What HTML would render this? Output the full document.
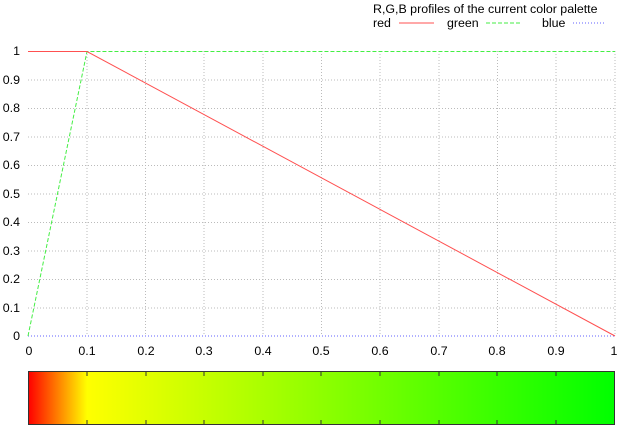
<!DOCTYPE html>
<html><head><style>body{margin:0;background:#fff}svg{display:block}</style></head><body>
<svg width="619" height="427" xmlns="http://www.w3.org/2000/svg" font-family="Liberation Sans, sans-serif" font-size="12.4">
<defs>
<linearGradient id="g" x1="0" x2="1" y1="0" y2="0">
<stop offset="0" stop-color="#ff0000"/>
<stop offset="0.1" stop-color="#ffff00"/>
<stop offset="1" stop-color="#00ff00"/>
</linearGradient>
</defs>
<g stroke="#bbb" stroke-width="1" stroke-dasharray="1,2">
<line x1="28" y1="80" x2="615" y2="80"/>
<line x1="28" y1="108.5" x2="615" y2="108.5"/>
<line x1="28" y1="137" x2="615" y2="137"/>
<line x1="28" y1="165.5" x2="615" y2="165.5"/>
<line x1="28" y1="194" x2="615" y2="194"/>
<line x1="28" y1="222.5" x2="615" y2="222.5"/>
<line x1="28" y1="251" x2="615" y2="251"/>
<line x1="28" y1="279.5" x2="615" y2="279.5"/>
<line x1="28" y1="308" x2="615" y2="308"/>
<line x1="87" y1="51" x2="87" y2="336"/>
<line x1="145.5" y1="51" x2="145.5" y2="336"/>
<line x1="204" y1="51" x2="204" y2="336"/>
<line x1="263" y1="51" x2="263" y2="336"/>
<line x1="321.5" y1="51" x2="321.5" y2="336"/>
<line x1="380" y1="51" x2="380" y2="336"/>
<line x1="439" y1="51" x2="439" y2="336"/>
<line x1="497.5" y1="51" x2="497.5" y2="336"/>
<line x1="556" y1="51" x2="556" y2="336"/>
<line x1="615" y1="51" x2="615" y2="336"/>
</g>
<g text-anchor="end">
<text x="20" y="55">1</text><text x="20" y="84">0.9</text><text x="20" y="112">0.8</text><text x="20" y="141">0.7</text><text x="20" y="169">0.6</text><text x="20" y="198">0.5</text><text x="20" y="226">0.4</text><text x="20" y="255">0.3</text><text x="20" y="283">0.2</text><text x="20" y="312">0.1</text><text x="20" y="340">0</text>
</g>
<g text-anchor="middle">
<text x="29" y="355">0</text><text x="87" y="355">0.1</text><text x="146" y="355">0.2</text><text x="204" y="355">0.3</text><text x="263" y="355">0.4</text><text x="321" y="355">0.5</text><text x="380" y="355">0.6</text><text x="439" y="355">0.7</text><text x="497" y="355">0.8</text><text x="556" y="355">0.9</text><text x="614" y="355">1</text>
</g>
<line x1="28" y1="336" x2="615" y2="336" stroke="#6060ff" stroke-dasharray="1,2"/>
<polyline points="28,336 87,51.5 615,51.5" fill="none" stroke="#44ee44" stroke-dasharray="4,2"/>
<polyline points="28,51.5 87,51.5 615,336" fill="none" stroke="#ff5050"/>
<text x="373" y="13">R,G,B profiles of the current color palette</text>
<text x="373" y="27">red</text><line x1="399" y1="23" x2="434" y2="23" stroke="#ff5050"/>
<text x="447" y="27">green</text><line x1="486" y1="23" x2="522" y2="23" stroke="#44ee44" stroke-dasharray="4,2"/>
<text x="542" y="27">blue</text><line x1="573" y1="23" x2="606" y2="23" stroke="#6060ff" stroke-dasharray="1,2"/>
<rect x="28.5" y="371.5" width="586" height="53" fill="url(#g)" stroke="#333"/>
<g stroke="#333">
<path d="M87 372v4M146 372v4M204 372v4M263 372v4M321 372v4M380 372v4M439 372v4M497 372v4M556 372v4M87 424v-4M146 424v-4M204 424v-4M263 424v-4M321 424v-4M380 424v-4M439 424v-4M497 424v-4M556 424v-4"/>
</g>
</svg>
</body></html>
